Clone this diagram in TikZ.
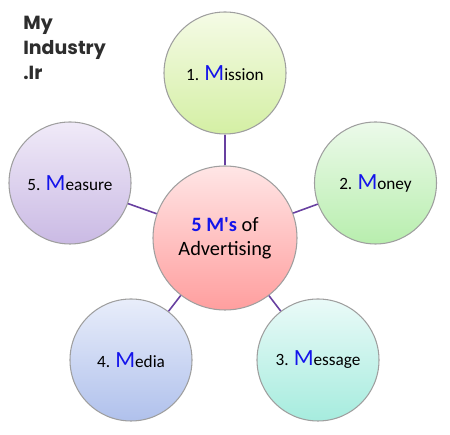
\documentclass[tikz,border=0pt]{standalone}
\usepackage{fontspec}
\setmainfont{Carlito}[Ligatures=TeXOff]
\newfontfamily\logofont{Poppins}
\usetikzlibrary{positioning}
\definecolor{linkpurple}{RGB}{104,64,160}
\definecolor{mblue}{RGB}{20,20,235}
\definecolor{logogray}{RGB}{45,45,45}
\tikzset{
  mcirc/.style={circle, draw=gray!75, line width=0.6pt, minimum size=2.44cm,
                inner sep=0pt, align=center, font=\fontsize{9.8}{12}\selectfont},
  mcenter/.style={mcirc, minimum size=2.88cm, font=\fontsize{11.6}{13.6}\selectfont},
  mlink/.style={draw=linkpurple, line width=0.9pt},
  logo/.style={anchor=north west, inner sep=0pt, align=left, text=logogray,
               font=\logofont\bfseries\fontsize{10.8}{14.2}\selectfont},
}
\newcommand{\bigM}{{\fontsize{13.2}{13.2}\selectfont\textcolor{mblue}{M}}}

\begin{document}
\begin{tikzpicture}
    \useasboundingbox (0,0) rectangle (9,-8.7);

      \node[logo] (logo) at (0.46,-0.32) {My\\Industry\\.Ir};

      \node[mcenter, top color=red!10, bottom color=red!38!white] (core) at (4.5,-4.76)
        {\textcolor{mblue}{\textbf{5 M's}} of\\Advertising};

      \node[mcirc, top color={rgb,255:red,245;green,251;blue,230}, bottom color={rgb,255:red,212;green,239;blue,164}]
        (mission) at (4.5,-1.46) {1. \bigM ission};
      \node[mcirc, top color={rgb,255:red,236;green,250;blue,234}, bottom color={rgb,255:red,184;green,238;blue,174}]
        (money) at (7.51,-3.66) {2. \bigM oney};
      \node[mcirc, top color={rgb,255:red,234;green,250;blue,248}, bottom color={rgb,255:red,166;green,236;blue,222}]
        (message) at (6.36,-7.2) {3. \bigM essage};
      \node[mcirc, top color={rgb,255:red,232;green,237;blue,250}, bottom color={rgb,255:red,176;green,193;blue,236}]
        (media) at (2.62,-7.2) {4. \bigM edia};
      \node[mcirc, top color={rgb,255:red,240;green,234;blue,248}, bottom color={rgb,255:red,202;green,186;blue,228}]
        (measure) at (1.4,-3.66) {5. \bigM easure};

      \foreach \m in {mission,money,message,media,measure}
        \draw[mlink] (core) -- (\m);

\end{tikzpicture}
\end{document}
